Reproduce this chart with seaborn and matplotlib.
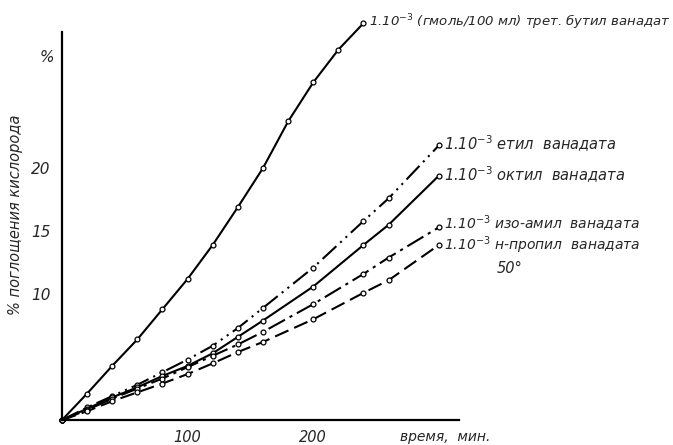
import pandas as pd
import matplotlib.pyplot as plt
import seaborn as sns

# время, мин
t_tert = [0, 20, 40, 60, 80, 100, 120, 140, 160, 180, 200, 220, 240]
y_tert = [0, 2.1, 4.3, 6.4, 8.8, 11.2, 13.9, 16.9, 20.0, 23.7, 26.8, 29.4, 31.5]

t_other = [0, 20, 40, 60, 80, 100, 120, 140, 160, 200, 240, 260, 300]
y_ethyl = [0, 1.0, 1.9, 2.8, 3.8, 4.8, 5.9, 7.3, 8.9, 12.1, 15.8, 17.6, 21.8]
y_octyl = [0, 0.9, 1.8, 2.6, 3.5, 4.3, 5.3, 6.6, 7.9, 10.6, 13.9, 15.5, 19.4]
y_isoamyl = [0, 0.8, 1.7, 2.5, 3.3, 4.2, 5.1, 6.0, 7.0, 9.2, 11.6, 12.9, 15.3]
y_propyl = [0, 0.7, 1.5, 2.2, 2.9, 3.65, 4.5, 5.4, 6.2, 8.0, 10.1, 11.1, 13.9]

labels = ["(гмоль/100 мл) трет. бутил ванадат", "етил  ванадата", "октил  ванадата",
          "изо-амил  ванадата", "н-пропил  ванадата"]
xticks = [100, 200]
yticks = [10, 15, 20]

sns.set_style("white")
plt.rcParams['font.family'] = ['DejaVu Sans']
plt.rcParams['mathtext.default'] = 'it'

fig = plt.figure(figsize=(6.73, 4.45), dpi=100)
ax = fig.add_axes([0.092, 0.056, 0.59, 0.872])

series = [
    (t_tert, y_tert, '-'),
    (t_other, y_ethyl, (0, (9, 2.5, 1, 2.5, 1, 2.5))),
    (t_other, y_octyl, '-'),
    (t_other, y_isoamyl, (0, (9, 2.5, 1.5, 2.5))),
    (t_other, y_propyl, (0, (7, 3))),
]
for t, y, ls in series:
    df = pd.DataFrame({"t": t, "y": y})
    sns.lineplot(data=df, x="t", y="y", ax=ax, color="black", linewidth=1.5,
                 linestyle=ls, marker="o", markersize=3.5, markerfacecolor="white",
                 markeredgecolor="black", markeredgewidth=0.9, clip_on=False)

ax.set_xlim(0, 316)
ax.set_ylim(0, 30.8)
for s in ["top", "right"]:
    ax.spines[s].set_visible(False)
for s in ["left", "bottom"]:
    ax.spines[s].set_linewidth(1.6)
    ax.spines[s].set_color("black")

ax.set_xticks(xticks)
ax.set_xticklabels([str(v) for v in xticks], fontsize=10.5, style="italic")
ax.set_yticks(yticks)
ax.set_yticklabels([str(v) for v in yticks], fontsize=11, style="italic")
ax.tick_params(axis="x", direction="out", length=2, width=1, pad=5)
ax.tick_params(axis="y", direction="out", length=2, width=1, pad=6)
ax.set_xlabel("")
ax.set_ylabel("% поглощения кислорода", fontsize=10.5, style="italic")
ax.yaxis.set_label_coords(-0.098, 0.53)

ax.text(-12, 28.8, "%", fontsize=11, style="italic", ha="center", va="center",
        clip_on=False)
ax.text(269, -1.35, "время,  мин.", fontsize=10, style="italic", ha="left", va="center",
        clip_on=False)

ends = [(y_tert, t_tert), (y_ethyl, t_other), (y_octyl, t_other),
        (y_isoamyl, t_other), (y_propyl, t_other)]
sizes = [9.5, 10.5, 10.5, 10, 10]
shifts = [0.1, 0.1, 0.1, 0.3, -0.05]
for (y, t), lab, fs, dy in zip(ends, labels, sizes, shifts):
    ax.text(t[-1] + 4, y[-1] + dy, "1.10$^{-3}$ " + lab, fontsize=fs, style="italic",
            ha="left", va="center", clip_on=False)
ax.text(356, 12.0, "50°", fontsize=10.5, style="italic", ha="center", va="center",
        clip_on=False)

fig.savefig("out.png", dpi=100)
